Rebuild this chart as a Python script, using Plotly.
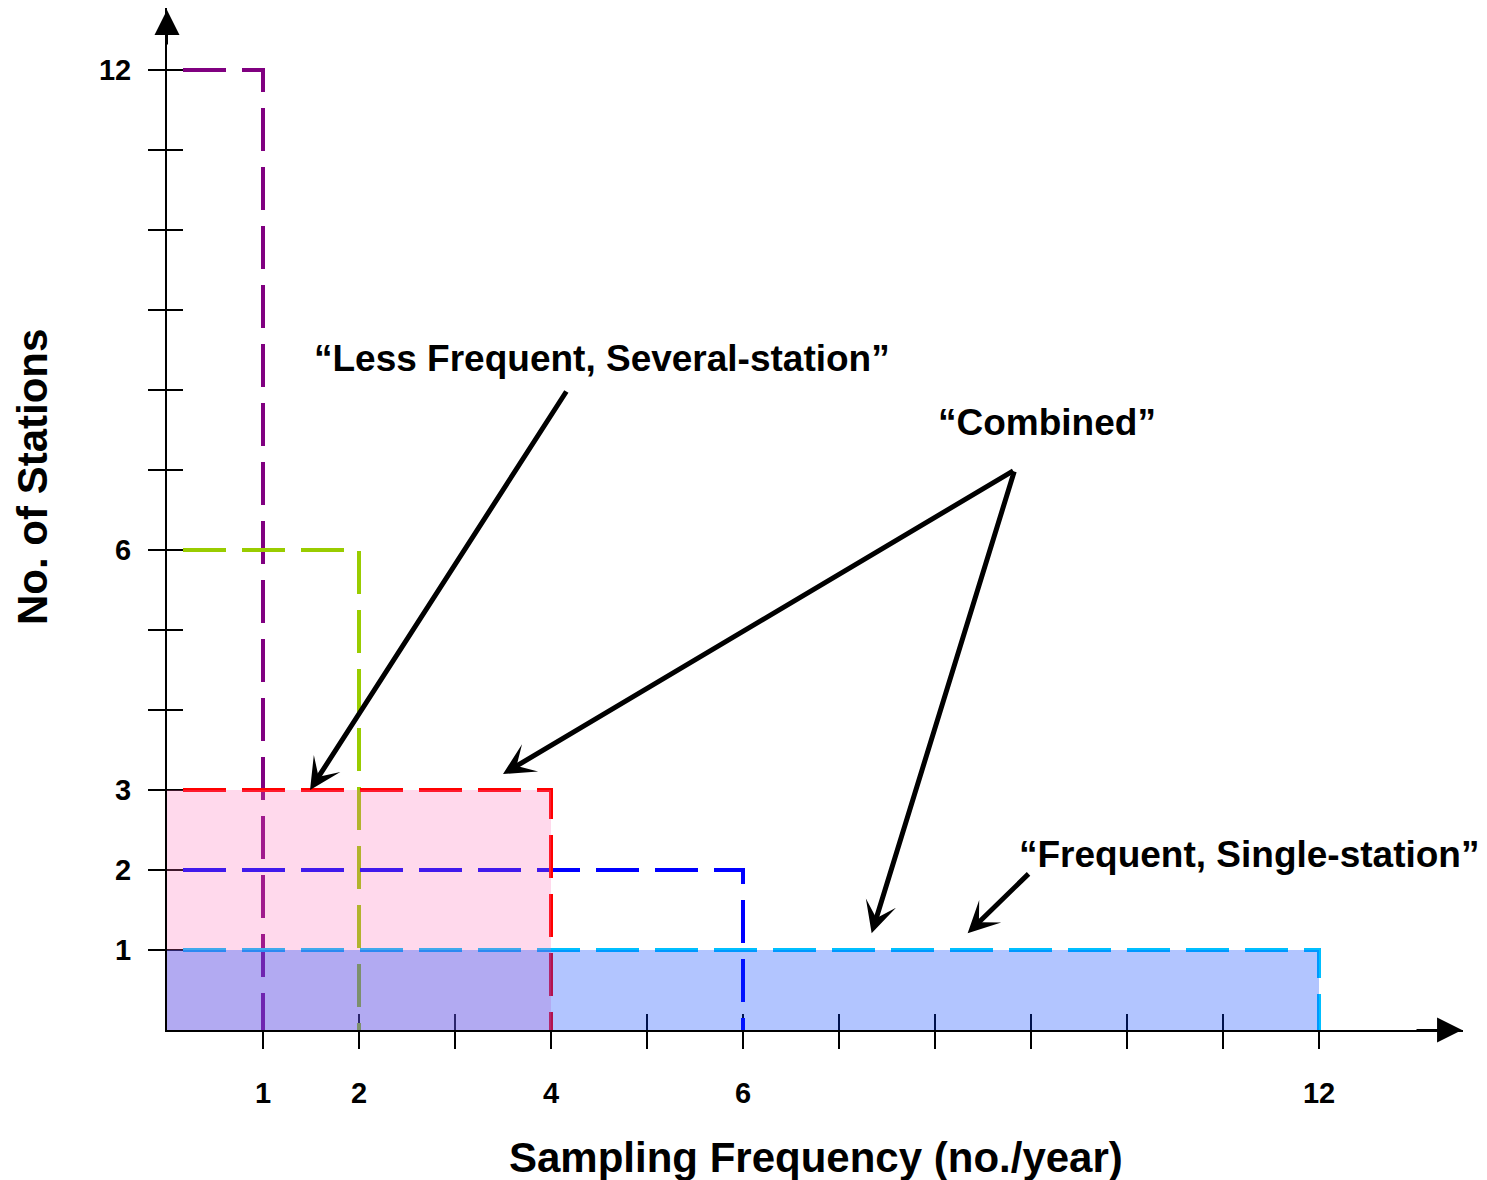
import plotly.graph_objects as go

# ---- data ----
freq = [1, 2, 4, 6, 12]            # sampling frequency (no./year) of each design
stations = [12, 6, 3, 2, 1]        # number of stations of each design
line_colors = ["#800080", "#99cc00", "#ff0000", "#0000ff", "#00bfff"]
draw_order = [0, 1, 3, 2, 4]

filled = [2, 4]                    # indices of designs with a shaded area
fill_colors = {2: "rgba(255,105,180,0.25)", 4: "rgba(0,64,255,0.30)"}

tick_vals = list(range(1, 13))
x_labels = {1: "1", 2: "2", 4: "4", 6: "6", 12: "12"}
y_labels = {1: "1", 2: "2", 3: "3", 6: "6", 12: "12"}

FONT = "Liberation Sans, Arial, sans-serif"

fig = go.Figure()

for i in draw_order:
    f, s = freq[i], stations[i]
    fig.add_trace(go.Scatter(
        x=[0, f, f], y=[s, s, 0], mode="lines",
        line=dict(color=line_colors[i], width=4, dash="0px,16px,43px,0px"),
        hoverinfo="skip", showlegend=False))

for i in filled:
    f, s = freq[i], stations[i]
    fig.add_trace(go.Scatter(
        x=[0, f, f, 0, 0], y=[0, 0, s, s, 0], mode="lines", fill="toself",
        fillcolor=fill_colors[i], line=dict(width=0),
        hoverinfo="skip", showlegend=False))

# helper trace for the inner-tick axes
fig.add_trace(go.Scatter(x=[None], y=[None], xaxis="x2", yaxis="y2",
                         showlegend=False, hoverinfo="skip"))

W, H = 1479, 1172
ML, MR, MT, MB = 159, 24, 0, 150
XR = [0, (W - ML - MR) / 96.0]
YR = [0, (H - MT - MB) / 80.0]
tickfont = dict(family=FONT, size=29, color="black", weight="bold")

fig.update_layout(
    width=W, height=H,
    margin=dict(l=ML, r=MR, t=MT, b=MB),
    plot_bgcolor="white", paper_bgcolor="white",
    showlegend=False,
    xaxis=dict(range=XR, tickvals=tick_vals,
               ticktext=[x_labels.get(v, "") for v in tick_vals],
               ticks="outside", ticklen=17, tickwidth=1.5, tickcolor="black",
               showline=True, linecolor="black", linewidth=2,
               showgrid=False, zeroline=False, layer="below traces",
               tickfont=tickfont, ticklabelstandoff=19, fixedrange=True),
    yaxis=dict(range=YR, tickvals=tick_vals,
               ticktext=[y_labels.get(v, "") for v in tick_vals],
               ticks="outside", ticklen=17, tickwidth=1.5, tickcolor="black",
               showline=True, linecolor="black", linewidth=2,
               showgrid=False, zeroline=False, layer="below traces",
               tickfont=tickfont, ticklabelstandoff=11, fixedrange=True),
    xaxis2=dict(range=XR, overlaying="x", anchor="y2", side="bottom",
                tickvals=tick_vals, ticks="inside", ticklen=16, tickwidth=1.5,
                tickcolor="black", showticklabels=False, showgrid=False,
                zeroline=False, showline=False, layer="below traces"),
    yaxis2=dict(range=YR, overlaying="y", anchor="x2", side="left",
                tickvals=tick_vals, ticks="inside", ticklen=16, tickwidth=1.5,
                tickcolor="black", showticklabels=False, showgrid=False,
                zeroline=False, showline=False, layer="below traces"),
)

annots = []
# axis arrowheads
annots.append(dict(x=13.49, y=0, ax=13.0, ay=0, xref="x", yref="y", axref="x", ayref="y",
                   text="", showarrow=True, arrowhead=2, arrowwidth=2, arrowsize=2.5,
                   arrowcolor="black", standoff=0))
annots.append(dict(x=0, y=12.75, ax=0, ay=12.3, xref="x", yref="y", axref="x", ayref="y",
                   text="", showarrow=True, arrowhead=2, arrowwidth=2, arrowsize=2.5,
                   arrowcolor="black", standoff=0))

# callout arrows (tip x,y ; tail ax,ay)
arrows = [
    (1.49, 3.0, 4.17, 8.0),
    (3.5, 3.2, 8.83, 7.0),
    (7.34, 1.21, 8.83, 7.0),
    (8.34, 1.21, 8.99, 1.97),
]
for x, y, ax, ay in arrows:
    annots.append(dict(x=x, y=y, ax=ax, ay=ay, xref="x", yref="y", axref="x", ayref="y",
                       text="", showarrow=True, arrowhead=3, arrowwidth=5, arrowsize=1.05,
                       arrowcolor="black", standoff=0))

labfont = dict(family=FONT, size=37, color="black", weight="bold")
annots.append(dict(x=4.53, y=8.4, xref="x", yref="y", showarrow=False,
                   text="\u201cLess Frequent, Several-station\u201d", font=labfont))
annots.append(dict(x=9.17, y=7.59, xref="x", yref="y", showarrow=False,
                   text="\u201cCombined\u201d", font=labfont))
annots.append(dict(x=11.27, y=2.19, xref="x", yref="y", showarrow=False,
                   text="\u201cFrequent, Single-station\u201d", font=labfont))

# axis titles (positioned in pixels relative to the plot area)
plot_w = W - ML - MR
plot_h = H - MT - MB
titlefont = dict(family=FONT, size=42, color="black", weight="bold")
annots.append(dict(x=(808 - ML) / plot_w, y=(plot_h - 1149) / plot_h,
                   xref="paper", yref="paper", showarrow=False,
                   text="Sampling Frequency (no./year)", font=titlefont,
                   xanchor="center", yanchor="middle"))
annots.append(dict(x=(25 - ML) / plot_w, y=(plot_h - 469) / plot_h,
                   xref="paper", yref="paper", showarrow=False,
                   text="No. of Stations", font=titlefont, textangle=-90,
                   xanchor="center", yanchor="middle"))

fig.update_layout(annotations=annots)

fig.write_html("out.html")
